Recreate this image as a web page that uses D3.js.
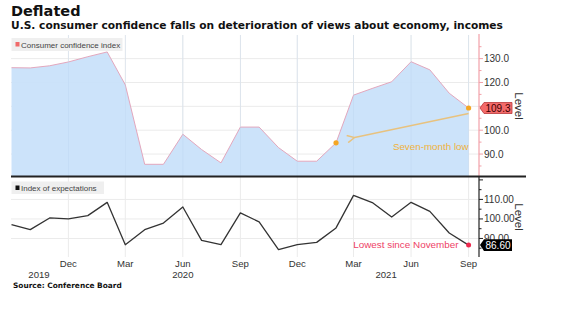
<!DOCTYPE html>
<html><head><meta charset="utf-8">
<script src="https://cdn.jsdelivr.net/npm/d3@7"></script>
<style>
html,body{margin:0;padding:0;background:#fff;}
svg{display:block;}
</style></head>
<body><svg id="c" width="563" height="322"></svg>
<script>
// ---- data ----
const months = ["2019-09","2019-10","2019-11","2019-12","2020-01","2020-02","2020-03","2020-04","2020-05","2020-06","2020-07","2020-08","2020-09","2020-10","2020-11","2020-12","2021-01","2021-02","2021-03","2021-04","2021-05","2021-06","2021-07","2021-08","2021-09"];
const confidence = [126.2,126.1,127.0,128.6,130.8,132.8,119.0,85.7,85.7,98.3,91.9,86.3,101.3,101.3,92.7,87.0,87.0,94.7,114.7,117.6,120.3,128.7,125.3,115.5,109.3];
const expectations = [97.1,94.5,100.5,100.0,101.7,108.5,86.8,94.5,97.9,106.1,89.0,86.8,103.1,98.5,84.3,86.8,88.0,95.4,112.1,108.2,101.0,108.5,103.9,92.8,86.6];
const topTicks = [130,120,100,90];
const topMinor = [85,90,95,100,105,110,115,120,125,130,135];
const botTicks = [110,100,90];
const botMinor = [85,90,95,100,105,110,115,120];
const yearLabels = [["2019","2019-10-15"],["2020","2020-06-01"],["2021","2021-04-22"]];

const parse = d3.timeParse("%Y-%m");
const parseD = d3.timeParse("%Y-%m-%d");
const dates = months.map(parse);

const svg = d3.select("#c");
const SANS = "'Liberation Sans', Arial, sans-serif";
const BOLD = "'DejaVu Sans', Verdana, sans-serif";

const x = d3.scaleTime().domain([dates[0], dates[dates.length-1]]).range([11.5, 468.6]);
const axisX = 479;
const yT = d3.scaleLinear().domain([80.8, 139.9]).range([176, 35]);
const yB = d3.scaleLinear().domain([80.5, 122]).range([257, 176]);

// titles
svg.append("text").attr("x",11).attr("y",16).text("Deflated")
  .attr("font-family",BOLD).attr("font-weight","bold").attr("font-size",14.5).attr("fill","#111");
svg.append("text").attr("x",11).attr("y",29).text("U.S. consumer confidence falls on deterioration of views about economy, incomes")
  .attr("font-family",BOLD).attr("font-weight","bold").attr("font-size",10.65).attr("fill","#111");

const gridMonths = d3.timeMonth.range(dates[0], d3.timeMonth.offset(dates[dates.length-1],1)).filter(d=>d.getMonth()%3===2 && d>dates[0]);

// ---- top panel ----
const gT = svg.append("g");
gT.selectAll(".vg").data(gridMonths).join("line")
  .attr("x1",d=>x(d)).attr("x2",d=>x(d)).attr("y1",35).attr("y2",176)
  .attr("stroke","#ebebeb").attr("stroke-width",1);
gT.selectAll(".hg").data([130,120,110,100,90]).join("line")
  .attr("x1",11).attr("x2",axisX).attr("y1",d=>yT(d)).attr("y2",d=>yT(d))
  .attr("stroke","#ebebeb").attr("stroke-width",1);

const area = d3.area().x((d,i)=>x(dates[i])).y0(176).y1(d=>yT(d));
gT.append("path").datum(confidence).attr("d",area).attr("fill","#c9e2fa").attr("opacity",0.95);
gT.append("path").datum(confidence).attr("d",d3.line().x((d,i)=>x(dates[i])).y(d=>yT(d)))
  .attr("fill","none").attr("stroke","#e3a7bd").attr("stroke-width",1);
gT.selectAll(".vg2").data(gridMonths).join("line")
  .attr("x1",d=>x(d)).attr("x2",d=>x(d)).attr("y1",35).attr("y2",176)
  .attr("stroke","#b8d3ef").attr("stroke-width",0.6).attr("opacity",0.5);

// legend
gT.append("rect").attr("x",11.5).attr("y",38).attr("width",111).attr("height",13).attr("fill","#efefef");
gT.append("rect").attr("x",15.5).attr("y",42).attr("width",4).attr("height",4.5).attr("fill","#f06a6a");
gT.append("text").attr("x",21).attr("y",47.5).text("Consumer confidence index")
  .attr("font-family",SANS).attr("font-size",8).attr("fill","#444");

// right axis
gT.append("line").attr("x1",axisX).attr("x2",axisX).attr("y1",34).attr("y2",176).attr("stroke","#f2a0a8").attr("stroke-width",1.2);
gT.selectAll(".mt").data(topMinor).join("line")
  .attr("x1",axisX).attr("x2",d=>axisX+(d%10===0?4:2.5)).attr("y1",d=>yT(d)).attr("y2",d=>yT(d))
  .attr("stroke","#f2a0a8").attr("stroke-width",1);
gT.selectAll(".tl").data(topTicks).join("text")
  .attr("x",axisX+5).attr("y",d=>yT(d)+3.5).text(d=>d3.format(".1f")(d))
  .attr("font-family",SANS).attr("font-size",10).attr("fill","#333");
gT.append("text").attr("transform",`translate(${axisX+36},${106}) rotate(90)`).attr("text-anchor","middle")
  .text("Level").attr("font-family",SANS).attr("font-size",11.5).attr("fill","#333");

// last value tag
const lastT = confidence[confidence.length-1];
const ty = yT(lastT);
gT.append("path").attr("d",`M${axisX+1},${ty} L${axisX+5},${ty-5.5} L${axisX+33},${ty-5.5} L${axisX+33},${ty+5.5} L${axisX+5},${ty+5.5} Z`)
  .attr("fill","#f36a6a").attr("stroke","#b83838").attr("stroke-width",0.8);
gT.append("text").attr("x",axisX+19).attr("y",ty+3.8).attr("text-anchor","middle").text(d3.format(".1f")(lastT))
  .attr("font-family",SANS).attr("font-size",10).attr("fill","#3a0000");

// annotation: seven-month low
const iLow = 17, iLast = confidence.length-1;
svg.append("defs").append("marker").attr("id","ah").attr("viewBox","0 0 10 10").attr("refX",1).attr("refY",5)
  .attr("markerWidth",7).attr("markerHeight",7).attr("orient","auto-start-reverse")
  .append("path").attr("d","M9,1 L1,5 L9,9").attr("fill","none").attr("stroke","#e8c27e").attr("stroke-width",1.6);
gT.append("line").attr("x1",x(dates[iLast])).attr("y1",yT(lastT)+5.5)
  .attr("x2",x(dates[iLow+1])+1).attr("y2",yT(lastT)+29.5)
  .attr("stroke","#e8c27e").attr("stroke-width",1.3).attr("marker-end","url(#ah)");
gT.append("text").attr("x",x(dates[iLast])).attr("y",149.5).attr("text-anchor","end").text("Seven-month low")
  .attr("font-family",SANS).attr("font-size",9.8).attr("fill","#f0b23a");
gT.selectAll(".od").data([iLow,iLast]).join("circle")
  .attr("cx",i=>x(dates[i])).attr("cy",i=>yT(confidence[i])).attr("r",2.6).attr("fill","#f5a623");

// ---- bottom panel ----
const gB = svg.append("g");
gB.selectAll(".vg").data(gridMonths).join("line")
  .attr("x1",d=>x(d)).attr("x2",d=>x(d)).attr("y1",176).attr("y2",257)
  .attr("stroke","#ebebeb").attr("stroke-width",1);
gB.selectAll(".hg").data(botTicks).join("line")
  .attr("x1",11).attr("x2",axisX).attr("y1",d=>yB(d)).attr("y2",d=>yB(d))
  .attr("stroke","#ebebeb").attr("stroke-width",1);
gB.append("path").datum(expectations).attr("d",d3.line().x((d,i)=>x(dates[i])).y(d=>yB(d)))
  .attr("fill","none").attr("stroke","#333").attr("stroke-width",1.3).attr("stroke-linejoin","round");

gB.append("rect").attr("x",11.5).attr("y",181.5).attr("width",92.5).attr("height",12.5).attr("fill","#efefef");
gB.append("rect").attr("x",15.5).attr("y",185.5).attr("width",4).attr("height",4.5).attr("fill","#111");
gB.append("text").attr("x",21).attr("y",191).text("Index of expectations")
  .attr("font-family",SANS).attr("font-size",8).attr("fill","#444");

gB.append("line").attr("x1",axisX).attr("x2",axisX).attr("y1",176).attr("y2",257).attr("stroke","#222").attr("stroke-width",1.2);
gB.selectAll(".mt").data(botMinor).join("line")
  .attr("x1",axisX).attr("x2",d=>axisX+(d%10===0?4:2.5)).attr("y1",d=>yB(d)).attr("y2",d=>yB(d))
  .attr("stroke","#222").attr("stroke-width",1);
gB.selectAll(".tl").data(botTicks).join("text")
  .attr("x",axisX+5).attr("y",d=>yB(d)+3.5).text(d=>d3.format(".2f")(d))
  .attr("font-family",SANS).attr("font-size",10).attr("fill","#333");
gB.append("text").attr("transform",`translate(${axisX+36},${217}) rotate(90)`).attr("text-anchor","middle")
  .text("Level").attr("font-family",SANS).attr("font-size",11.5).attr("fill","#333");

const lastB = expectations[expectations.length-1];
const by = yB(lastB);
gB.append("path").attr("d",`M${axisX+1},${by} L${axisX+5},${by-5.8} L${axisX+33},${by-5.8} L${axisX+33},${by+5.8} L${axisX+5},${by+5.8} Z`)
  .attr("fill","#000");
gB.append("text").attr("x",axisX+19).attr("y",by+3.8).attr("text-anchor","middle").text(d3.format(".2f")(lastB))
  .attr("font-family",SANS).attr("font-size",10).attr("fill","#fff");

gB.append("text").attr("x",x(dates[iLast])-10).attr("y",248).attr("text-anchor","end").text("Lowest since November")
  .attr("font-family",SANS).attr("font-size",9.9).attr("fill","#ee3f66");
gB.append("circle").attr("cx",x(dates[iLast])).attr("cy",by).attr("r",2.5).attr("fill","#ee2a4f");

// separator
svg.append("line").attr("x1",11).attr("x2",526).attr("y1",176.5).attr("y2",176.5).attr("stroke","#222").attr("stroke-width",1.8);

// x axis labels
svg.selectAll(".xl").data(gridMonths).join("text")
  .attr("x",d=>x(d)).attr("y",267).attr("text-anchor","middle").text(d3.timeFormat("%b"))
  .attr("font-family",SANS).attr("font-size",9.6).attr("fill","#333");
svg.selectAll(".yl").data(yearLabels).join("text")
  .attr("x",d=>x(parseD(d[1]))).attr("y",278).attr("text-anchor","middle").text(d=>d[0])
  .attr("font-family",SANS).attr("font-size",9.6).attr("fill","#333");

svg.append("text").attr("x",13).attr("y",287.5).text("Source: Conference Board")
  .attr("font-family",BOLD).attr("font-weight","bold").attr("font-size",7.4).attr("fill","#111");
</script>
</body></html>
